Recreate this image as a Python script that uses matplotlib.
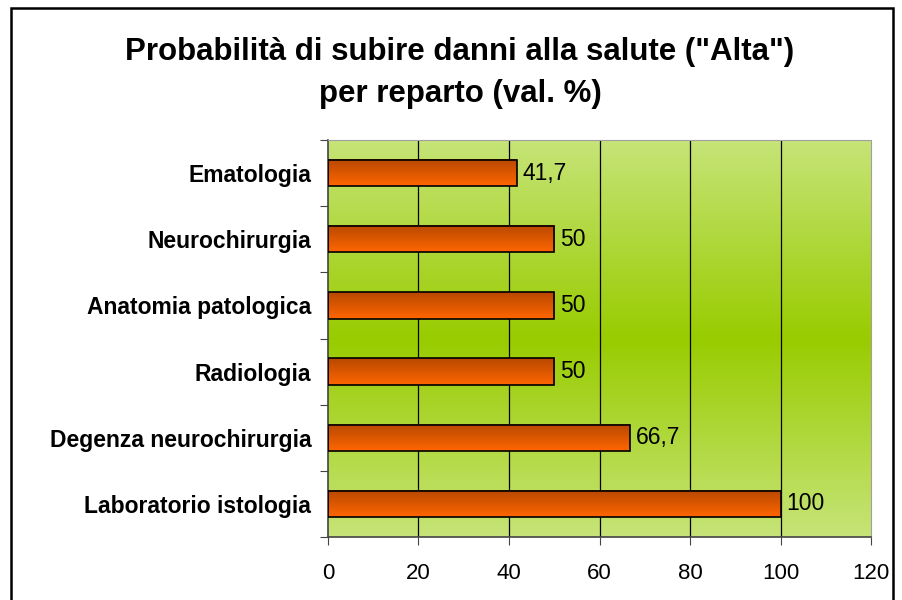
import numpy as np
import matplotlib.pyplot as plt
from matplotlib.colors import LinearSegmentedColormap
from matplotlib.patches import Rectangle

plt.rcParams['font.family'] = ['Liberation Sans', 'DejaVu Sans']

# dati (dall'alto verso il basso)
reparti = ['Ematologia', 'Neurochirurgia', 'Anatomia patologica',
           'Radiologia', 'Degenza neurochirurgia', 'Laboratorio istologia']
valori = [41.7, 50, 50, 50, 66.7, 100]
etichette = ['41,7', '50', '50', '50', '66,7', '100']
xticks = [0, 20, 40, 60, 80, 100, 120]

fig = plt.figure(figsize=(9.03, 6.0), dpi=100)
ax = fig.add_axes([328 / 903, 1 - 537 / 600, 543 / 903, 397 / 600])

n = len(reparti)
ypos = np.arange(n)[::-1]  # primo in alto
ax.set_xlim(0, 120)
ax.set_ylim(-0.5, n - 0.5)

# sfondo sfumato
sfondo = LinearSegmentedColormap.from_list('sf', ['#c6e478', '#99cc00', '#c6e478'])
grad = np.linspace(0, 1, 256).reshape(-1, 1)
ax.imshow(grad, cmap=sfondo, aspect='auto', extent=[0, 120, -0.5, n - 0.5],
          origin='upper', zorder=0)

for x in xticks[1:-1]:
    ax.axvline(x, color='black', lw=0.9, zorder=1)

# barre con sfumatura
barra = LinearSegmentedColormap.from_list('br', ['#b84800', '#ff6600'])
h = 0.4
for y, v, lab in zip(ypos, valori, etichette):
    ax.imshow(grad, cmap=barra, aspect='auto',
              extent=[0, v, y - h / 2, y + h / 2], origin='upper', zorder=2)
    ax.add_patch(Rectangle((0, y - h / 2), v, h, fill=False,
                           edgecolor='black', lw=1.2, zorder=3))
    ax.text(v + 1.3, y, lab, va='center', ha='left', fontsize=16.5, zorder=4)

ax.set_xticks(xticks)
ax.set_xticklabels([str(t) for t in xticks], fontsize=16)
ax.set_yticks(np.arange(n + 1) - 0.5)
ax.set_yticklabels([])
ax.set_yticks(ypos, minor=True)
ax.set_yticklabels(reparti, minor=True, fontsize=16.5, fontweight='bold')
ax.tick_params(axis='y', which='minor', length=0, pad=12)
ax.tick_params(axis='y', which='major', length=6, direction='out', color='#444444')
ax.tick_params(axis='x', length=6, direction='out', pad=13, color='#444444')

for s in ['top', 'right']:
    ax.spines[s].set_color('#a0a0a0')
for s in ['left', 'bottom']:
    ax.spines[s].set_color('#444444')
    ax.spines[s].set_linewidth(1.2)

fig.text(460 / 903, 1 - 73 / 600,
         'Probabilità di subire danni alla salute ("Alta")\nper reparto (val. %)',
         ha='center', va='center', fontsize=22.5, fontweight='bold', linespacing=1.55)

# cornice del grafico
fig.patches.append(Rectangle((11 / 903, -0.02), 882 / 903, 1 - 8 / 600 + 0.02,
                             transform=fig.transFigure, fill=False,
                             edgecolor='black', lw=1.8))

fig.savefig('out.png', dpi=100)
